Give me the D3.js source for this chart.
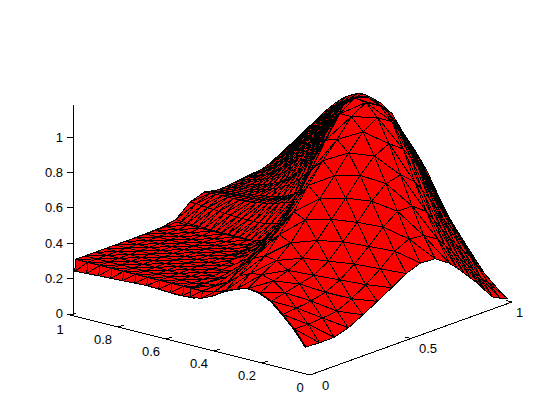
<!DOCTYPE html>
<html><head><meta charset="utf-8">
<script src="https://cdn.jsdelivr.net/npm/d3@7"></script>
<style>html,body{margin:0;padding:0;background:#fff}svg{display:block}text{font-family:"Liberation Sans",Arial,sans-serif;font-size:13px;fill:#000}</style>
</head><body><svg id="c" width="560" height="420"></svg>
<script>
const xValues=[0,.004,.071,.143,.214,.286,.357,.429,.5,.571,.643,.714,.75,.786,.821,.857,.893,.929,.964,1];
const yValues=[.02,.068,.116,.164,.212,.26,.308,.356,.404,.452,.5,.548,.596,.62,.644,.668,.692,.716,.74,.764,.788,.812,.836,.86,.884,.908,.932,.956,.98];
const zAtX000=[.15,.235,.30,.36,.39,.40,.38,.35,.31,.28,.27,.265,.268,.27,.272,.274,.275,.274,.272,.27,.268,.266,.265,.264,.262,.26,.258,.256,.254];
const zAtX004=[.15,.235,.30,.36,.39,.40,.38,.355,.33,.32,.32,.32,.32,.32,.32,.32,.32,.32,.32,.32,.32,.319,.318,.317,.316,.316,.316,.316,.316];
const zAtX071=[.146,.235,.31,.38,.43,.45,.44,.41,.36,.325,.32,.32,.32,.32,.32,.32,.32,.32,.32,.32,.32,.32,.32,.32,.318,.318,.318,.318,.318];
const zAtX143=[.147,.24,.32,.40,.46,.50,.51,.48,.42,.345,.32,.32,.32,.32,.32,.32,.32,.32,.32,.32,.32,.32,.32,.32,.32,.32,.32,.32,.32];
const zAtX214=[.172,.25,.34,.42,.50,.57,.60,.54,.46,.39,.33,.32,.32,.32,.32,.32,.32,.32,.32,.32,.32,.32,.32,.32,.32,.32,.32,.32,.32];
const zAtX286=[.215,.29,.38,.47,.57,.67,.70,.62,.52,.44,.37,.32,.32,.32,.32,.32,.32,.32,.32,.32,.32,.32,.32,.32,.32,.32,.32,.32,.32];
const zAtX357=[.262,.34,.44,.55,.66,.76,.82,.73,.62,.51,.43,.35,.32,.32,.32,.32,.32,.32,.32,.32,.32,.32,.32,.32,.32,.32,.322,.322,.322];
const zAtX429=[.31,.40,.51,.63,.75,.86,.93,.86,.72,.59,.48,.38,.32,.32,.32,.32,.32,.32,.32,.32,.32,.32,.322,.322,.322,.324,.325,.325,.325];
const zAtX500=[.36,.47,.59,.72,.85,.96,1.02,1.0,.88,.72,.58,.46,.36,.345,.335,.332,.33,.33,.33,.33,.33,.33,.33,.332,.335,.335,.335,.337,.34];
const zAtX571=[.39,.51,.65,.79,.93,1.05,1.12,1.12,.98,.83,.66,.53,.42,.41,.40,.395,.39,.39,.39,.39,.39,.392,.395,.398,.40,.402,.405,.408,.41];
const zAtX643=[.385,.50,.65,.81,.97,1.10,1.17,1.18,1.12,.97,.82,.67,.53,.505,.49,.48,.47,.462,.455,.45,.445,.442,.44,.44,.44,.44,.44,.438,.437];
const zAtX714=[.33,.45,.59,.74,.91,1.05,1.12,1.15,1.14,1.09,.97,.81,.63,.57,.52,.50,.485,.472,.46,.455,.45,.445,.44,.435,.43,.428,.425,.422,.42];
const zAtX750=[.29,.40,.53,.68,.85,.98,1.07,1.11,1.12,1.10,1.01,.89,.74,.68,.62,.58,.55,.525,.505,.49,.475,.465,.455,.447,.44,.436,.432,.428,.425];
const zAtX786=[.245,.35,.47,.62,.78,.90,1.0,1.06,1.09,1.09,1.04,.96,.84,.78,.72,.665,.62,.58,.55,.525,.50,.485,.47,.46,.45,.445,.44,.435,.43];
const zAtX821=[.20,.30,.41,.545,.69,.815,.92,1.0,1.05,1.065,1.05,.99,.90,.85,.79,.74,.69,.645,.61,.58,.55,.525,.505,.487,.47,.46,.45,.443,.435];
const zAtX857=[.155,.25,.35,.47,.60,.73,.84,.93,1.0,1.03,1.04,1.01,.95,.91,.86,.81,.76,.71,.67,.635,.60,.57,.54,.515,.49,.475,.46,.45,.44];
const zAtX893=[.10,.195,.30,.41,.52,.64,.755,.85,.925,.985,1.01,1.0,.97,.94,.90,.855,.81,.765,.725,.69,.65,.62,.585,.55,.52,.497,.475,.46,.445];
const zAtX929=[.05,.14,.25,.35,.44,.55,.67,.77,.85,.94,.98,.99,.98,.96,.93,.895,.86,.82,.78,.74,.70,.665,.63,.59,.55,.52,.49,.47,.45];
const zAtX964=[.03,.10,.185,.28,.365,.465,.585,.70,.79,.875,.94,.97,.975,.965,.945,.92,.89,.86,.825,.79,.75,.715,.675,.635,.595,.56,.525,.495,.465];
const zAtX100=[.015,.065,.125,.21,.295,.385,.50,.625,.72,.80,.895,.94,.96,.965,.96,.945,.925,.90,.87,.835,.80,.76,.72,.68,.64,.60,.565,.525,.485];
const zColumns=[zAtX000,zAtX004,zAtX071,zAtX143,zAtX214,zAtX286,zAtX357,zAtX429,zAtX500,zAtX571,zAtX643,zAtX714,zAtX750,zAtX786,zAtX821,zAtX857,zAtX893,zAtX929,zAtX964,zAtX100];
const plateX=[0,.004,.05,.1,.15,.2,.25,.3,.35,.4,.45,.5];
const plateY=[.48,.53,.58,.63,.68,.73,.78,.83,.88,.93,.98];
const plateEdgeZ=[.27,.268,.268,.272,.275,.272,.268,.265,.262,.258,.254];
const plateTopZ=[.27,.32,.32,.32,.32,.32,.32,.32,.32,.32,.32,.325];
const xTicks=[0,.5,1], yTicks=[0,.2,.4,.6,.8,1], zTicks=[0,.2,.4,.6,.8,1];
const xLabels=["0","0.5","1"], yLabels=["0","0.2","0.4","0.6","0.8","1"], zLabels=["0","0.2","0.4","0.6","0.8","1"];
const xLabelDx=[12,8,4];

const sx=d3.scaleLinear().domain([0,1]).range([0,202]);
const sxv=d3.scaleLinear().domain([0,1]).range([0,-73]);
const sy=d3.scaleLinear().domain([0,1]).range([0,-240]);
const syv=d3.scaleLinear().domain([0,1]).range([0,-60]);
const sz=d3.scaleLinear().domain([0,1]).range([0,-177]);
const O=[310,375];
const project=(x,y,z)=>[O[0]+sx(x)+sy(y),O[1]+sxv(x)+syv(y)+sz(z)];
const depth=(x,y,z)=>.729*x+.613*y-.181*z;

const svg=d3.select("#c");
svg.append("rect").attr("width",560).attr("height",420).attr("fill","#fff");

const tris=[];
const pt=(i,j)=>({x:xValues[i],y:yValues[j],z:zColumns[i][j]});
const setDepth=(t,extra)=>{t.d=d3.mean(t,p=>depth(p.x,p.y,p.z))+extra;tris.push(t);};
for(let i=0;i<xValues.length-1;i++)for(let j=0;j<yValues.length-1;j++){
  [[pt(i,j),pt(i+1,j),pt(i,j+1)],[pt(i+1,j),pt(i+1,j+1),pt(i,j+1)]].forEach(t=>{
    const flat=t.every(p=>p.x<=.5&&p.y>=.5&&p.z<=.34);
    setDepth(t,flat?1:0);
  });
}
const ppt=(i,j)=>({x:plateX[i],y:plateY[j],z:i===0?plateEdgeZ[j]:plateTopZ[i]});
const onPlate=p=>p.y>=.46+.3*p.x;
for(let i=0;i<plateX.length-1;i++)for(let j=0;j<plateY.length-1;j++){
  [[ppt(i,j),ppt(i+1,j),ppt(i,j+1)],[ppt(i+1,j),ppt(i+1,j+1),ppt(i,j+1)]].forEach(t=>{
    if(t.every(onPlate))setDepth(t,0);
  });
}
tris.sort((a,b)=>d3.descending(a.d,b.d));
const line=d3.line().x(p=>project(p.x,p.y,p.z)[0]).y(p=>project(p.x,p.y,p.z)[1]).curve(d3.curveLinearClosed);
svg.append("g").selectAll("path").data(tris).join("path")
  .attr("d",line).attr("fill","#ff0000").attr("stroke","#000").attr("stroke-width",1)
  .attr("stroke-linejoin","round").attr("shape-rendering","crispEdges");

const ax=svg.append("g").attr("stroke","#000").attr("stroke-width",1).attr("shape-rendering","crispEdges");
const seg=(a,b)=>ax.append("line").attr("x1",a[0]).attr("y1",a[1]).attr("x2",b[0]).attr("y2",b[1]);
seg(project(0,0,0),project(1,0,0));
seg(project(0,0,0),project(0,1,0));
const zAxisX=73;
const zY=z=>314+sz(z);
seg([zAxisX,zY(0)+1],[zAxisX,zY(1.18)]);
xTicks.forEach((v,k)=>{const p=project(v,0,0);seg(p,[p[0]-6,p[1]-1.5]);
  svg.append("text").attr("x",p[0]+xLabelDx[k]).attr("y",p[1]+10).attr("dominant-baseline","central").text(xLabels[k]);});
yTicks.forEach((v,k)=>{const p=project(0,v,0);seg(p,[p[0]+6,p[1]-2]);
  svg.append("text").attr("x",p[0]+(yLabels[k].length>1?-15:-10)).attr("y",p[1]+(v===1?14:12)).attr("text-anchor","middle").attr("dominant-baseline","central").text(yLabels[k]);});
zTicks.forEach((v,k)=>{const y=zY(v);seg([zAxisX-6,y],[zAxisX,y]);
  svg.append("text").attr("x",63).attr("y",v===0?y-1:y).attr("text-anchor","end").attr("dominant-baseline","central").text(zLabels[k]);});
</script></body></html>
